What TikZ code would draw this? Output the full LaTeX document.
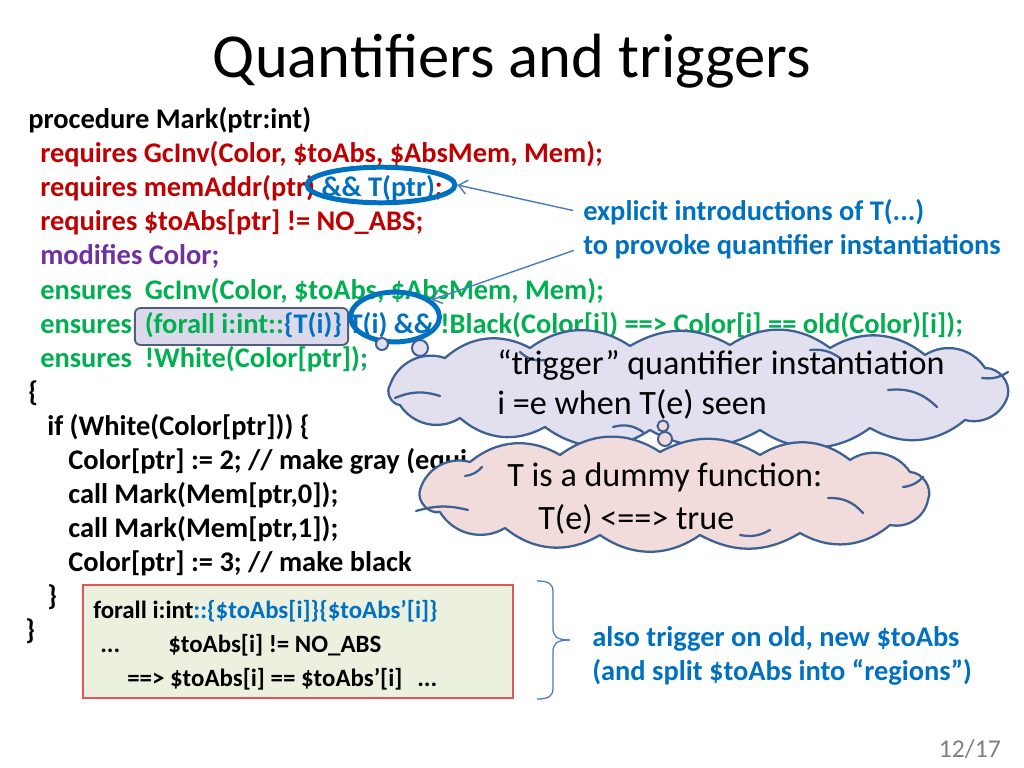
\documentclass[tikz,border=0pt]{standalone}
\usepackage{fontspec}
\setmainfont{Carlito}
\usetikzlibrary{shapes.geometric,arrows.meta}
\definecolor{cred}{HTML}{C00000}
\definecolor{cpurple}{HTML}{7030A0}
\definecolor{cgreen}{HTML}{00B050}
\definecolor{cblue}{HTML}{0070C0}
\definecolor{arrowc}{HTML}{4A7EBB}
\definecolor{cloudline}{HTML}{3C6192}
\definecolor{lavfill}{HTML}{E2DFEE}
\definecolor{pinkfill}{HTML}{F2DCDB}
\definecolor{hlfill}{HTML}{DCDAEA}
\definecolor{hlline}{HTML}{4F5F7F}
\definecolor{boxfill}{HTML}{EBF1DE}
\definecolor{boxline}{HTML}{E05555}
\definecolor{pagegray}{HTML}{7F7F7F}
\begin{document}
\begin{tikzpicture}[x=0.703125pt,y=-0.703125pt,
  code/.style={font=\fontsize{20}{24}\selectfont\bfseries, inner sep=0pt, anchor=base west},
  boxcode/.style={font=\fontsize{17.5}{21}\selectfont\bfseries, inner sep=0pt, anchor=base west},
  cloudtxt/.style={font=\fontsize{24}{28}\selectfont, inner sep=0pt, anchor=base west},
  ringmark/.style={ellipse, draw=cblue, line width=3.5pt, inner sep=0pt},
  ann/.style={draw=arrowc, line width=1pt, -{Straight Barb[length=6pt,width=10pt]}},
  bubble/.style={draw=cloudline, line width=1.6pt, line join=round},
  innerarc/.style={draw=cloudline, line width=1.6pt, line cap=round},
  pf/.style={bend left=#1}, pf/.default=35,
  tailc/.style={draw=cloudline, line width=1.4pt},
  bracec/.style={draw=arrowc, line width=0.9pt}]
\useasboundingbox (0,0) rectangle (1024,768);

% title
\node[font=\fontsize{44}{52}\selectfont, anchor=base, inner sep=0pt] (title) at (512,78) {Quantifiers and triggers};

% highlight box behind forall
\node[draw=hlline, fill=hlfill, line width=1.3pt, rounded corners=4pt, minimum width=150pt, minimum height=26pt, inner sep=0pt] (hl) at (241.5,326.5) {};

% code
\node[code] (l0) at (28,129) {procedure Mark(ptr:int)};
\node[code, text=cred] (l1) at (40,163) {requires GcInv(Color, \$toAbs, \$AbsMem, Mem);};
\node[code, text=cred] (l2) at (40,197) {requires memAddr(ptr) \textcolor{cblue}{\&\& T(ptr)};};
\node[code, text=cred] (l3) at (40,231) {requires \$toAbs[ptr] != NO\_ABS;};
\node[code, text=cpurple] (l4) at (40,265) {modifies Color;};
\node[code, text=cgreen] (l5) at (40,299) {ensures\ \ GcInv(Color, \$toAbs, \$AbsMem, Mem);};
\node[code, text=cgreen] (l6) at (40,333) {ensures\ \ (forall i:int::\textcolor{cblue}{\{T(i)\} T(i) \&\&} !Black(Color[i]) ==> Color[i] == old(Color)[i]);};
\node[code, text=cgreen] (l7) at (40,367) {ensures\ \ !White(Color[ptr]);};
\node[code] (l8) at (28,401) {\{};
\node[code] (l9) at (47,435) {if (White(Color[ptr])) \{};
\node[code] (l10) at (68,469) {Color[ptr] := 2; // make gray (equi};
\node[code] (l11) at (68,503) {call Mark(Mem[ptr,0]);};
\node[code] (l12) at (68,537) {call Mark(Mem[ptr,1]);};
\node[code] (l13) at (68,571) {Color[ptr] := 3; // make black};
\node[code] (l14) at (47,605) {\}};
\node[code] (l15) at (25,639) {\}};

% blue rings
\node[ringmark, minimum width=104pt, minimum height=25pt] (e1) at (381,185) {};
\node[ringmark, minimum width=62.5pt, minimum height=35pt] (e2) at (395,317) {};

% explanation and arrows
\node[code, text=cblue] (ex1) at (583,221) {explicit introductions of T(...)};
\node[code, text=cblue] (ex2) at (583,255) {to provoke quantifier instantiations};
\draw[ann, shorten <=7pt] (ex1.west) -- (e1.east);
\draw[ann, shorten <=7pt] (ex2.west) -- (e2.25);

% cloud 1
\path[bubble, fill=lavfill] (390,385) to[pf=45] (445,358) to[pf] (530,348) to[pf] (630,346) to[pf=30] (730,345)
  to[pf] (830,348) to[pf] (925,355) to[pf=45] (985,368) to[pf=50] (1008,395) to[pf=45] (965,420)
  to[pf] (870,428) to[pf] (760,430) to[pf=30] (650,430) to[pf] (545,427) to[pf] (460,418)
  to[pf=45] (400,405) to[pf=60] (390,385) -- cycle;
\draw[innerarc] (395,398) to[bend left=20] (440,396);
\draw[innerarc] (613,427) to[bend left=25] (643,432);
\draw[innerarc] (888,390) to[bend left=25] (937,407);
\draw[innerarc] (982,378) to[bend right=20] (1008,372);
\draw[innerarc] (520,352) to[bend right=25] (545,360);
\draw[innerarc] (810,350) to[bend left=20] (840,358);
\draw[tailc, fill=lavfill] (382,344) circle [radius=6];
\draw[tailc, fill=lavfill] (420,348) circle [radius=8];
\node[cloudtxt] (t1) at (497,374) {“trigger” quantifier instantiation};
\node[cloudtxt] (t2) at (497,414) {i =e when T(e) seen};

% cloud 2
\path[bubble, fill=pinkfill] (420,490) to[pf=45] (470,462) to[pf] (560,455) to[pf] (660,452) to[pf=30] (760,455)
  to[pf] (850,460) to[pf=45] (910,472) to[pf=55] (928,500) to[pf=45] (890,525) to[pf] (800,533)
  to[pf=30] (700,535) to[pf] (600,535) to[pf] (505,528) to[pf=45] (440,512) to[pf=60] (420,490) -- cycle;
\draw[innerarc] (416,511) to[bend left=15] (468,510);
\draw[innerarc] (465,476) to[bend right=20] (482,467);
\draw[innerarc] (903,487) to[bend right=20] (923,477);
\draw[innerarc] (828,498) to[bend left=25] (863,513);
\draw[innerarc] (740,535) to[bend right=20] (770,530);
\draw[tailc, fill=pinkfill] (663,426) circle [radius=5.5];
\draw[tailc, fill=pinkfill] (665,439) circle [radius=7];
\node[cloudtxt] (t3) at (507,486) {T is a dummy function:};
\node[cloudtxt] (t4) at (538,529) {T(e) <==> true};

% bottom box
\node[draw=boxline, fill=boxfill, line width=1pt, minimum width=302.3pt, minimum height=79.5pt, inner sep=0pt] (bb) at (298,641.5) {};
\node[boxcode] (b1) at (93,618) {forall i:int\textcolor{cblue}{::\{\$toAbs[i]\}\{\$toAbs’[i]\}}};
\node[boxcode] (b2a) at (100,652) {...};
\node[boxcode] (b2b) at (168,652) {\$toAbs[i] != NO\_ABS};
\node[boxcode] (b3a) at (127,686) {==> \$toAbs[i] == \$toAbs’[i]};
\node[boxcode] (b3b) at (417,686) {...};

% brace
\coordinate (brtip) at (570,640);
\draw[bracec] (537,581) .. controls (549,581) and (553,584) .. (553,592) -- (553,628) .. controls (553,636) and (556,640) .. (brtip);
\draw[bracec] (537,699) .. controls (549,699) and (553,696) .. (553,688) -- (553,652) .. controls (553,644) and (556,640) .. (brtip);
\node[code, text=cblue] (s1) at (592,646) {also trigger on old, new \$toAbs};
\node[code, text=cblue] (s2) at (592,680) {(and split \$toAbs into “regions”)};

% page number
\node[font=\fontsize{18}{22}\selectfont, text=pagegray, anchor=base east, inner sep=0pt] (pg) at (1001,757) {12/17};
\end{tikzpicture}
\end{document}
